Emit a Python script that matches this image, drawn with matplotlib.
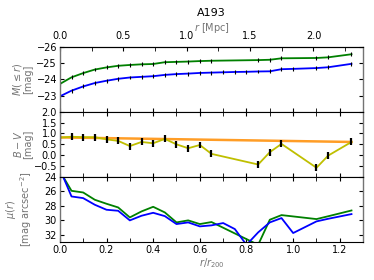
import matplotlib.pyplot as plt
from matplotlib.ticker import MultipleLocator

# rayons (r/r200) des profils
r_all = [0.0, 0.05, 0.10, 0.15, 0.20, 0.25, 0.30, 0.35, 0.40, 0.45, 0.50, 0.55,
         0.60, 0.65, 0.70, 0.75, 0.80, 0.85, 0.90, 0.95, 1.00, 1.10, 1.15, 1.25]
r_col = [0.0, 0.05, 0.10, 0.15, 0.20, 0.25, 0.30, 0.35, 0.40, 0.45, 0.50, 0.55,
         0.60, 0.65, 0.85, 0.90, 0.95, 1.10, 1.15, 1.25]

# magnitude integree M(<= r)
mag_v = [-23.71, -24.12, -24.38, -24.60, -24.73, -24.83, -24.88, -24.92, -24.94, -25.05,
         -25.07, -25.09, -25.12, -25.14, -25.18, -25.20, -25.29, -25.31, -25.35, -25.54]
mag_b = [-22.95, -23.30, -23.56, -23.77, -23.91, -24.03, -24.11, -24.15, -24.19, -24.27,
         -24.32, -24.35, -24.39, -24.41, -24.43, -24.45, -24.46, -24.48, -24.49, -24.62,
         -24.64, -24.69, -24.74, -24.95]

# couleur B-V
bv = [0.81, 0.85, 0.83, 0.83, 0.73, 0.66, 0.42, 0.61, 0.55, 0.75, 0.50, 0.32,
      0.47, 0.06, -0.43, 0.14, 0.52, -0.58, -0.02, 0.61]
bv_fit_r = [0.0, 1.25]
bv_fit = [0.82, 0.61]

# brillance de surface
mu_v = [23.2, 25.93, 26.16, 27.17, 27.72, 28.23, 29.61, 28.78, 28.14, 28.92, 30.30,
        30.02, 30.53, 30.25, 33.4, 29.93, 29.29, 29.84, 29.45, 28.65]
mu_b = [22.9, 26.71, 26.94, 27.86, 28.55, 28.69, 30.02, 29.38, 28.97, 29.43, 30.53,
        30.30, 30.85, 30.71, 30.39, 31.22, 33.4, 31.68, 30.30, 29.70, 31.77, 30.16,
        29.80, 29.15]

# graduations affichees
ticks_mag = [-26, -25, -24, -23]
ticks_bv = [-0.5, 0.0, 0.5, 1.0, 1.5, 2.0]
ticks_mu = [24, 26, 28, 30, 32]
ticks_mpc = [0.0, 0.5, 1.0, 1.5, 2.0]

r200_mpc = 1.84
lab_col = '0.45'

fig = plt.figure(figsize=(3.74, 2.80), dpi=100)
fig.subplots_adjust(left=0.160, right=0.971, top=0.833, bottom=0.136, hspace=0)
ax1 = fig.add_subplot(311)
ax2 = fig.add_subplot(312, sharex=ax1)
ax3 = fig.add_subplot(313, sharex=ax1)

# panneau du haut
ax1.plot(r_col, mag_v, color='g', lw=1.3)
ax1.plot(r_all, mag_b, color='b', lw=1.3)
ax1.errorbar(r_col, mag_v, yerr=0.12, fmt='none', ecolor='k', elinewidth=0.8)
ax1.errorbar(r_all, mag_b, yerr=0.12, fmt='none', ecolor='k', elinewidth=0.8)
ax1.set_ylim(-22, -26)
ax1.set_yticks(ticks_mag)
ax1.set_ylabel('$M(\\leq r)$\n[mag]', color=lab_col, fontsize=7, labelpad=0,
               linespacing=1.0)

sec = ax1.secondary_xaxis('top', functions=(lambda x: x * r200_mpc, lambda x: x / r200_mpc))
sec.set_xticks(ticks_mpc)
sec.xaxis.set_minor_locator(MultipleLocator(0.25))
sec.tick_params(which='both', direction='in', labelsize=7, length=3, pad=4)
sec.set_xlabel('$r$ [Mpc]', color=lab_col, fontsize=7, labelpad=0)

# panneau du milieu
ax2.plot(bv_fit_r, bv_fit, color='darkorange', lw=1.8, alpha=0.85)
ax2.plot(r_col, bv, color='y', lw=1.3)
ax2.errorbar(r_col, bv, yerr=0.16, fmt='none', ecolor='k', elinewidth=1.6)
ax2.set_ylim(-1, 2)
ax2.set_yticks(ticks_bv)
ax2.set_ylabel('$B-V$\n[mag]', color=lab_col, fontsize=7, labelpad=0, linespacing=1.0)

# panneau du bas
ax3.plot(r_col, mu_v, color='g', lw=1.3)
ax3.plot(r_all, mu_b, color='b', lw=1.3)
ax3.set_ylim(33, 24)
ax3.set_yticks(ticks_mu)
ax3.set_ylabel('$\\mu(r)$\n[mag arcsec$^{-2}$]', color=lab_col, fontsize=7, labelpad=0,
               linespacing=1.0)
ax3.set_xlabel('$r/r_{200}$', color=lab_col, fontsize=7, labelpad=1)

ax3.set_xlim(0, 1.3)
ax3.xaxis.set_major_locator(MultipleLocator(0.2))
ax3.xaxis.set_minor_locator(MultipleLocator(0.1))

for ax in (ax1, ax2, ax3):
    ax.tick_params(which='both', direction='in', right=True, top=True,
                   labelsize=7, length=3, pad=2)
    ax.spines['left'].set_color('0.45')
    ax.spines['right'].set_color('0.45')
    ax.spines['left'].set_linewidth(1.0)
    ax.spines['right'].set_linewidth(1.0)
ax1.tick_params(which='both', top=False, labelbottom=False)
ax2.tick_params(labelbottom=False)

fig.align_ylabels([ax1, ax2, ax3])
fig.text(0.565, 0.955, 'A193', ha='center', va='center', fontsize=8)

fig.savefig('out.png', dpi=100)
